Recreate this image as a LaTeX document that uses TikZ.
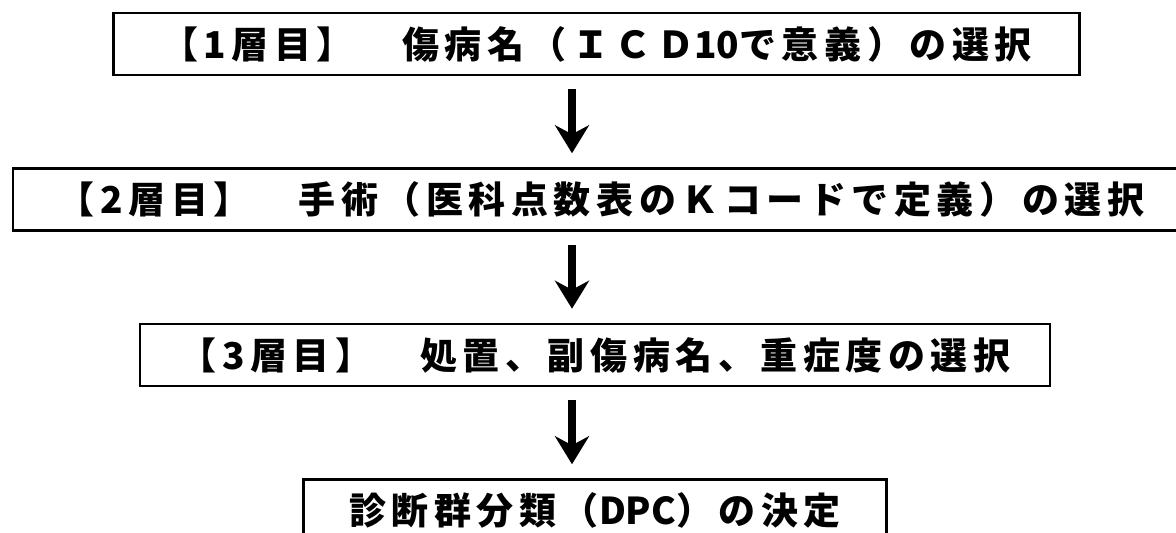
\documentclass[tikz,border=0pt]{standalone}
\usepackage{fontspec}
\setmainfont{Noto Sans CJK JP}[LetterSpace=15]
\newfontfamily\tightfont{Noto Sans CJK JP}
\usetikzlibrary{arrows.meta, positioning}
\tikzset{%
>={Stealth[width=34pt,length=28pt,inset=9pt]},
% Specifications for style of nodes:
base/.style = {draw, line width=2.5pt, minimum height=62pt, inner sep=0pt, text centered},
layer/.style = {base, rectangle},
result/.style = {layer},
flow/.style = {->, line width=8pt, shorten <=13pt, shorten >=14pt},
}

\begin{document}
\begin{tikzpicture}[
            x=1pt, y=-1pt,
            node distance=91pt,
            every node/.style={font=\fontsize{37}{40}\selectfont\bfseries},
        ]
        \useasboundingbox (0,0) rectangle (1176,533);
        % Specification of nodes (position, etc.)
        \node (layer1) [layer, minimum width=966pt] at (596.5,44) {【1層目】　傷病名（ＩＣＤ{\tightfont\bfseries 10}で意義）の選択};
        \node (layer2) [layer, minimum width=1176pt, below=of layer1, xshift=4.5pt] {【2層目】　手術（医科点数表のＫコードで定義）の選択};
        \node (layer3) [layer, minimum width=910pt, below=of layer2, xshift=-6pt] {【3層目】　処置、副傷病名、重症度の選択};
        \node (dpc) [result, minimum width=583pt, below=of layer3] {診断群分類（{\tightfont\bfseries DPC}）の決定};
        \coordinate (arrowX) at (572,0);

        \draw [flow] (layer1.south -| arrowX) -- (layer2.north -| arrowX);
        \draw [flow] (layer2.south -| arrowX) -- (layer3.north -| arrowX);
        \draw [flow] (layer3.south -| arrowX) -- (dpc.north -| arrowX);
    \end{tikzpicture}
\end{document}
